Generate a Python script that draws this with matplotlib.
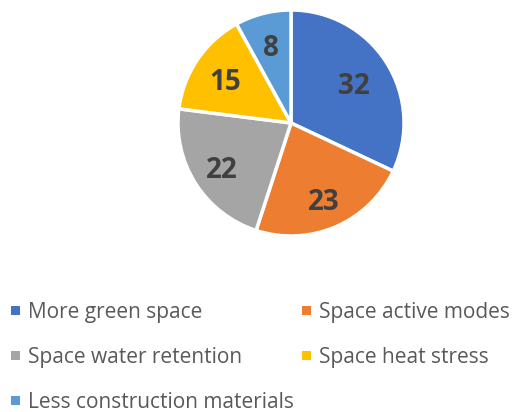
import matplotlib
matplotlib.use("Agg")
import matplotlib.pyplot as plt
import numpy as np
from matplotlib.patches import Rectangle

categories = ["More green space", "Space active modes", "Space water retention",
              "Space heat stress", "Less construction materials"]
values = [32, 23, 22, 15, 8]
colors = ["#4472C4", "#ED7D31", "#A5A5A5", "#FFC000", "#5B9BD5"]
label_radius = [0.655, 0.73, 0.73, 0.70, 0.71]  # Excel best-fit label placement

plt.rcParams['font.family'] = ['Open Sans', 'DejaVu Sans']

W, H = 513, 412
fig = plt.figure(figsize=(W / 100, H / 100), dpi=100)
cx, cy, r = 291, 123, 113
ax = fig.add_axes([(cx - r) / W, (H - cy - r) / H, 2 * r / W, 2 * r / H])
wedges, texts = ax.pie(values, colors=colors, startangle=90, counterclock=False,
                       labels=[str(v) for v in values], labeldistance=0.66,
                       wedgeprops=dict(edgecolor="white", linewidth=2.5))
for w, t, lr in zip(wedges, texts, label_radius):
    ang = np.deg2rad((w.theta1 + w.theta2) / 2)
    t.set_position((lr * np.cos(ang), lr * np.sin(ang)))
    t.set_fontsize(20)
    t.set_fontweight("bold")
    t.set_color("#404040")
    t.set_ha("center")
    t.set_va("center_baseline")
ax.set_xlim(-1, 1)
ax.set_ylim(-1, 1)
ax.set_aspect("equal")

# legend laid out in rows of two, Excel-style
col_x = [11, 302]
row_y = [310, 355, 400]
sq = 9
for i, (lab, col) in enumerate(zip(categories, colors)):
    rx = col_x[i % 2]
    ry = row_y[i // 2]
    fig.patches.append(Rectangle(((rx) / W, (H - ry - sq / 2) / H), sq / W, sq / H,
                                 transform=fig.transFigure, facecolor=col,
                                 edgecolor="none"))
    fig.text((rx + 17) / W, (H - ry) / H, lab, fontsize=15, color="#595959",
             ha="left", va="center_baseline")

fig.savefig("out.png", dpi=100)
